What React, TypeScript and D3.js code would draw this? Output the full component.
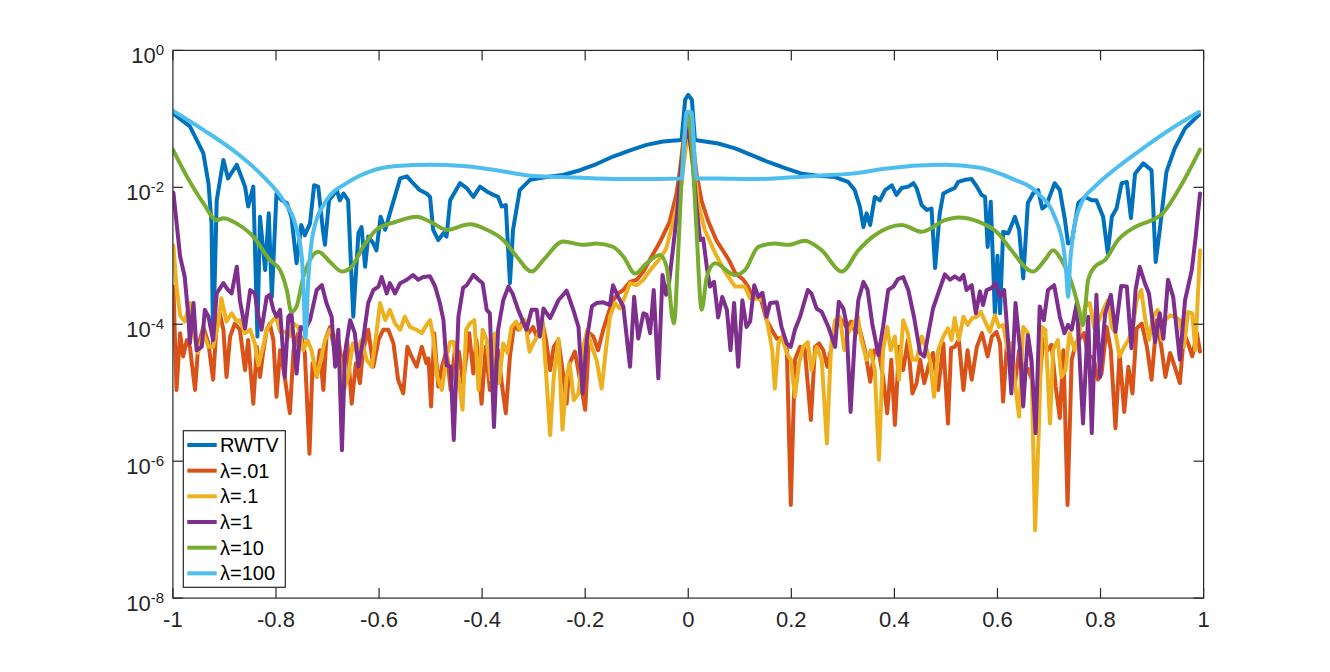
import React from "react";
import * as d3 from "d3";

// ---- chart values: [x, log10(y)] pairs ----
const xTickValues = [-1, -0.8, -0.6, -0.4, -0.2, 0, 0.2, 0.4, 0.6, 0.8, 1];
const yTickExponents = [0, -2, -4, -6, -8];
const legendLabels = ["RWTV", "λ=.01", "λ=.1", "λ=1", "λ=10", "λ=100"];
const seriesColors = ["#0072BD", "#D95319", "#EDB120", "#7E2F8E", "#77AC30", "#4DBEEE"];

const rwtv: [number, number][] = [[-1.000,-0.92],[-0.967,-1.11],[-0.941,-1.50],[-0.931,-1.94],[-0.925,-2.53],[-0.922,-4.33],[-0.915,-2.19],[-0.902,-1.60],[-0.893,-1.87],[-0.876,-1.67],[-0.860,-1.99],[-0.854,-2.28],[-0.844,-1.99],[-0.836,-4.18],[-0.831,-2.43],[-0.821,-3.21],[-0.814,-2.38],[-0.808,-3.60],[-0.799,-2.09],[-0.789,-2.19],[-0.779,-2.23],[-0.770,-2.43],[-0.760,-3.11],[-0.751,-2.55],[-0.744,-2.70],[-0.734,-2.53],[-0.726,-1.97],[-0.718,-1.99],[-0.709,-2.62],[-0.705,-2.84],[-0.697,-2.19],[-0.682,-2.04],[-0.676,-2.19],[-0.669,-2.09],[-0.660,-2.19],[-0.650,-3.89],[-0.640,-2.67],[-0.634,-2.58],[-0.627,-3.16],[-0.621,-2.72],[-0.611,-2.82],[-0.605,-2.92],[-0.597,-2.43],[-0.588,-2.62],[-0.579,-2.38],[-0.559,-1.87],[-0.546,-1.84],[-0.534,-1.94],[-0.521,-2.04],[-0.508,-2.09],[-0.501,-2.14],[-0.495,-2.62],[-0.485,-2.77],[-0.475,-2.67],[-0.469,-2.72],[-0.462,-2.19],[-0.443,-1.94],[-0.430,-2.01],[-0.417,-2.14],[-0.404,-1.99],[-0.391,-2.06],[-0.378,-2.11],[-0.369,-2.14],[-0.362,-2.28],[-0.354,-2.26],[-0.346,-3.40],[-0.340,-2.62],[-0.327,-2.04],[-0.307,-1.89],[-0.275,-1.85],[-0.243,-1.82],[-0.210,-1.75],[-0.178,-1.66],[-0.146,-1.55],[-0.113,-1.46],[-0.081,-1.38],[-0.049,-1.33],[-0.013,-1.31],[-0.006,-0.72],[0,-0.65],[0.007,-0.72],[0.013,-1.31],[0.058,-1.36],[0.091,-1.43],[0.123,-1.53],[0.155,-1.63],[0.188,-1.72],[0.220,-1.80],[0.252,-1.83],[0.285,-1.85],[0.310,-1.92],[0.323,-2.04],[0.333,-2.28],[0.340,-2.58],[0.346,-2.38],[0.353,-2.55],[0.362,-2.14],[0.372,-2.19],[0.382,-2.04],[0.395,-1.97],[0.404,-2.11],[0.414,-2.01],[0.427,-1.99],[0.437,-1.94],[0.443,-2.01],[0.453,-2.26],[0.463,-2.33],[0.472,-2.31],[0.479,-3.18],[0.488,-2.38],[0.495,-2.09],[0.508,-2.04],[0.517,-2.01],[0.524,-1.92],[0.537,-1.89],[0.550,-1.88],[0.560,-1.99],[0.569,-2.11],[0.576,-2.14],[0.581,-2.87],[0.587,-2.21],[0.595,-3.84],[0.600,-3.00],[0.605,-3.84],[0.611,-2.65],[0.621,-2.67],[0.634,-2.43],[0.642,-2.62],[0.650,-3.33],[0.659,-2.23],[0.669,-2.09],[0.679,-2.04],[0.687,-2.31],[0.695,-2.26],[0.711,-1.94],[0.721,-2.04],[0.731,-2.48],[0.737,-2.82],[0.744,-2.80],[0.757,-2.23],[0.770,-2.14],[0.783,-2.19],[0.792,-2.19],[0.805,-2.43],[0.814,-2.96],[0.822,-2.43],[0.831,-2.31],[0.841,-1.94],[0.851,-1.92],[0.859,-2.45],[0.867,-1.80],[0.883,-1.65],[0.899,-1.75],[0.907,-3.09],[0.915,-2.62],[0.928,-1.77],[0.944,-1.43],[0.964,-1.14],[0.991,-0.94]];

const lam001: [number, number][] = [[-0.999,-3.45],[-0.993,-4.96],[-0.986,-4.13],[-0.980,-4.47],[-0.973,-4.23],[-0.967,-4.33],[-0.957,-4.96],[-0.951,-4.33],[-0.941,-4.04],[-0.931,-4.28],[-0.922,-4.81],[-0.915,-3.99],[-0.909,-3.84],[-0.902,-4.08],[-0.896,-4.77],[-0.889,-4.18],[-0.880,-3.99],[-0.870,-4.08],[-0.860,-4.67],[-0.854,-4.23],[-0.844,-5.16],[-0.837,-4.33],[-0.831,-4.77],[-0.825,-4.42],[-0.818,-4.08],[-0.812,-3.99],[-0.805,-4.23],[-0.799,-5.06],[-0.792,-4.38],[-0.783,-4.77],[-0.773,-5.30],[-0.766,-4.38],[-0.757,-4.13],[-0.750,-4.20],[-0.744,-4.42],[-0.735,-5.89],[-0.729,-4.57],[-0.721,-4.77],[-0.715,-4.38],[-0.708,-4.96],[-0.702,-4.18],[-0.695,-4.04],[-0.685,-4.42],[-0.679,-4.23],[-0.669,-4.67],[-0.662,-4.23],[-0.653,-5.16],[-0.645,-4.57],[-0.637,-4.86],[-0.631,-4.38],[-0.621,-4.08],[-0.611,-4.62],[-0.601,-4.23],[-0.592,-4.08],[-0.582,-4.08],[-0.572,-4.28],[-0.563,-4.81],[-0.553,-5.01],[-0.545,-4.33],[-0.537,-4.47],[-0.527,-4.62],[-0.517,-4.33],[-0.508,-4.57],[-0.504,-4.50],[-0.499,-5.20],[-0.493,-4.13],[-0.485,-4.91],[-0.478,-4.62],[-0.469,-4.38],[-0.461,-4.96],[-0.453,-4.38],[-0.445,-4.40],[-0.437,-4.86],[-0.425,-4.13],[-0.417,-4.72],[-0.411,-4.23],[-0.401,-5.16],[-0.393,-4.33],[-0.385,-4.96],[-0.376,-4.57],[-0.369,-4.38],[-0.362,-4.86],[-0.354,-5.30],[-0.346,-4.47],[-0.338,-4.01],[-0.330,-4.08],[-0.320,-3.94],[-0.310,-4.13],[-0.301,-4.04],[-0.294,-4.18],[-0.284,-3.94],[-0.276,-4.23],[-0.268,-4.67],[-0.261,-4.33],[-0.252,-4.23],[-0.244,-4.67],[-0.236,-5.16],[-0.230,-4.57],[-0.220,-4.40],[-0.210,-4.81],[-0.200,-5.25],[-0.192,-4.13],[-0.184,-4.18],[-0.175,-4.38],[-0.165,-4.08],[-0.155,-3.84],[-0.146,-3.65],[-0.136,-3.55],[-0.126,-3.50],[-0.113,-3.38],[-0.100,-3.35],[-0.087,-3.23],[-0.074,-3.05],[-0.055,-2.80],[-0.036,-2.50],[-0.023,-2.10],[-0.016,-1.75],[-0.010,-1.35],[-0.003,-1.05],[0.003,-1.05],[0.010,-1.40],[0.016,-1.80],[0.026,-2.20],[0.039,-2.50],[0.055,-2.78],[0.078,-3.05],[0.091,-3.25],[0.107,-3.35],[0.116,-3.45],[0.123,-3.58],[0.133,-3.62],[0.141,-3.63],[0.152,-3.94],[0.162,-4.08],[0.172,-4.21],[0.181,-4.20],[0.191,-4.28],[0.199,-6.64],[0.207,-4.52],[0.217,-4.33],[0.226,-4.36],[0.238,-5.40],[0.246,-4.33],[0.254,-4.28],[0.262,-4.38],[0.270,-4.62],[0.278,-4.33],[0.288,-4.01],[0.298,-3.94],[0.307,-4.04],[0.316,-3.96],[0.325,-4.13],[0.333,-4.08],[0.343,-4.38],[0.353,-4.84],[0.361,-4.38],[0.370,-4.42],[0.378,-4.77],[0.386,-5.30],[0.394,-4.52],[0.401,-5.47],[0.409,-4.33],[0.417,-4.67],[0.426,-4.23],[0.435,-5.01],[0.443,-4.86],[0.450,-4.52],[0.458,-4.86],[0.466,-4.62],[0.475,-4.42],[0.485,-4.96],[0.495,-4.28],[0.504,-5.45],[0.510,-4.35],[0.517,-4.33],[0.525,-4.23],[0.534,-4.96],[0.542,-4.38],[0.550,-4.81],[0.560,-4.33],[0.570,-4.13],[0.581,-4.47],[0.589,-4.18],[0.598,-4.11],[0.605,-4.28],[0.611,-5.13],[0.618,-4.33],[0.626,-4.57],[0.634,-4.86],[0.642,-4.38],[0.650,-4.67],[0.659,-4.65],[0.667,-4.81],[0.674,-5.40],[0.680,-4.96],[0.689,-4.21],[0.697,-4.38],[0.705,-4.30],[0.713,-4.91],[0.721,-5.37],[0.728,-4.38],[0.736,-6.64],[0.744,-4.52],[0.752,-4.28],[0.760,-4.21],[0.768,-4.13],[0.776,-4.47],[0.786,-4.48],[0.795,-4.81],[0.802,-4.72],[0.812,-4.04],[0.820,-4.38],[0.829,-5.52],[0.837,-4.42],[0.846,-5.28],[0.854,-4.62],[0.862,-5.01],[0.870,-4.06],[0.880,-3.99],[0.890,-4.33],[0.899,-4.81],[0.909,-3.94],[0.918,-4.33],[0.926,-4.77],[0.935,-4.42],[0.944,-4.62],[0.954,-4.86],[0.962,-4.13],[0.970,-4.28],[0.978,-4.47],[0.987,-4.13],[0.993,-4.40]];

const lam01: [number, number][] = [[-0.999,-2.85],[-0.993,-3.45],[-0.986,-3.87],[-0.977,-3.96],[-0.967,-3.69],[-0.957,-4.23],[-0.951,-4.42],[-0.941,-4.13],[-0.931,-4.33],[-0.922,-4.33],[-0.912,-3.99],[-0.906,-3.62],[-0.896,-3.96],[-0.886,-3.84],[-0.876,-3.96],[-0.870,-3.94],[-0.860,-4.13],[-0.850,-4.08],[-0.841,-4.28],[-0.834,-4.60],[-0.825,-4.33],[-0.818,-4.08],[-0.808,-3.96],[-0.800,-3.89],[-0.792,-4.11],[-0.783,-4.11],[-0.774,-4.18],[-0.766,-3.99],[-0.757,-4.04],[-0.747,-4.38],[-0.739,-4.23],[-0.731,-4.38],[-0.721,-4.77],[-0.713,-4.52],[-0.705,-4.23],[-0.695,-4.08],[-0.685,-4.18],[-0.676,-4.52],[-0.668,-4.96],[-0.660,-4.77],[-0.651,-4.28],[-0.643,-4.42],[-0.634,-4.23],[-0.624,-4.52],[-0.614,-4.62],[-0.606,-4.18],[-0.598,-3.69],[-0.588,-3.94],[-0.579,-3.79],[-0.569,-3.99],[-0.559,-4.08],[-0.550,-3.89],[-0.540,-4.04],[-0.527,-4.08],[-0.517,-4.13],[-0.508,-4.01],[-0.501,-3.94],[-0.495,-4.18],[-0.487,-4.77],[-0.478,-4.96],[-0.469,-4.47],[-0.462,-4.26],[-0.455,-4.26],[-0.446,-4.77],[-0.438,-5.25],[-0.431,-4.08],[-0.424,-3.99],[-0.415,-3.94],[-0.407,-4.96],[-0.399,-4.08],[-0.391,-4.23],[-0.383,-4.81],[-0.375,-4.13],[-0.367,-4.86],[-0.359,-4.28],[-0.351,-4.42],[-0.343,-4.04],[-0.334,-3.96],[-0.327,-4.08],[-0.317,-3.94],[-0.308,-4.40],[-0.301,-4.28],[-0.293,-4.18],[-0.283,-3.94],[-0.275,-4.81],[-0.268,-5.62],[-0.261,-4.77],[-0.252,-4.21],[-0.244,-5.54],[-0.236,-4.77],[-0.230,-4.57],[-0.222,-5.11],[-0.213,-5.01],[-0.205,-4.38],[-0.196,-4.08],[-0.187,-4.33],[-0.178,-4.52],[-0.168,-4.94],[-0.160,-4.38],[-0.152,-3.89],[-0.142,-3.69],[-0.133,-3.77],[-0.123,-3.60],[-0.113,-3.40],[-0.100,-3.43],[-0.087,-3.35],[-0.074,-3.21],[-0.055,-3.04],[-0.043,-2.90],[-0.036,-2.70],[-0.023,-2.30],[-0.013,-1.94],[-0.006,-1.50],[0,-1.15],[0.007,-1.60],[0.016,-2.00],[0.019,-2.23],[0.032,-2.62],[0.052,-2.96],[0.071,-3.23],[0.091,-3.45],[0.110,-3.45],[0.120,-3.62],[0.129,-3.62],[0.146,-3.65],[0.155,-4.04],[0.163,-4.38],[0.168,-4.94],[0.175,-4.28],[0.182,-4.18],[0.191,-4.42],[0.199,-4.52],[0.207,-5.06],[0.215,-4.57],[0.223,-4.33],[0.232,-4.26],[0.239,-4.67],[0.249,-4.33],[0.259,-4.52],[0.269,-5.74],[0.277,-4.33],[0.285,-3.94],[0.294,-3.89],[0.303,-4.38],[0.310,-4.13],[0.320,-3.99],[0.329,-3.89],[0.336,-4.23],[0.346,-4.52],[0.354,-4.38],[0.362,-4.67],[0.370,-5.98],[0.378,-4.38],[0.386,-4.04],[0.393,-4.38],[0.401,-4.18],[0.409,-4.81],[0.417,-3.94],[0.426,-4.13],[0.435,-4.52],[0.443,-4.52],[0.453,-4.18],[0.461,-4.33],[0.469,-4.52],[0.477,-5.06],[0.485,-4.38],[0.495,-4.18],[0.504,-4.06],[0.511,-4.23],[0.517,-3.91],[0.525,-4.23],[0.534,-3.89],[0.542,-4.01],[0.551,-3.91],[0.560,-3.89],[0.568,-3.82],[0.576,-3.96],[0.585,-4.11],[0.595,-3.87],[0.603,-4.04],[0.611,-4.01],[0.620,-4.38],[0.627,-4.28],[0.634,-4.86],[0.642,-5.35],[0.650,-4.04],[0.659,-4.13],[0.666,-4.57],[0.673,-7.01],[0.680,-5.60],[0.686,-4.04],[0.693,-4.08],[0.702,-5.45],[0.708,-4.38],[0.717,-4.23],[0.724,-4.77],[0.732,-4.67],[0.740,-4.13],[0.750,-4.38],[0.760,-4.08],[0.770,-3.74],[0.779,-3.69],[0.788,-4.06],[0.797,-3.94],[0.805,-3.79],[0.814,-3.65],[0.822,-4.04],[0.829,-4.13],[0.837,-4.47],[0.846,-4.33],[0.854,-4.23],[0.862,-4.08],[0.870,-3.65],[0.879,-3.50],[0.886,-3.89],[0.894,-4.23],[0.902,-3.89],[0.911,-3.79],[0.919,-4.23],[0.926,-3.94],[0.935,-3.87],[0.944,-3.89],[0.954,-3.94],[0.962,-4.33],[0.970,-3.82],[0.978,-3.84],[0.984,-4.38],[0.993,-2.92]];

const lam1: [number, number][] = [[-0.999,-2.08],[-0.986,-3.01],[-0.977,-3.31],[-0.970,-3.89],[-0.967,-4.28],[-0.960,-3.69],[-0.954,-4.38],[-0.944,-4.33],[-0.938,-3.79],[-0.931,-3.89],[-0.922,-4.23],[-0.915,-3.55],[-0.902,-3.40],[-0.893,-3.50],[-0.886,-3.55],[-0.876,-3.16],[-0.870,-3.65],[-0.860,-4.06],[-0.850,-3.50],[-0.841,-3.55],[-0.834,-3.89],[-0.828,-4.08],[-0.818,-3.60],[-0.812,-3.57],[-0.805,-3.79],[-0.799,-3.89],[-0.792,-3.79],[-0.783,-4.77],[-0.776,-3.89],[-0.770,-3.84],[-0.760,-4.72],[-0.752,-4.04],[-0.744,-4.08],[-0.734,-3.94],[-0.721,-3.50],[-0.711,-3.43],[-0.702,-3.69],[-0.692,-3.89],[-0.685,-4.62],[-0.679,-4.08],[-0.672,-5.84],[-0.666,-4.42],[-0.656,-3.94],[-0.647,-4.13],[-0.640,-4.62],[-0.631,-4.23],[-0.621,-3.69],[-0.611,-3.50],[-0.601,-3.45],[-0.595,-3.31],[-0.585,-3.55],[-0.579,-3.40],[-0.569,-3.55],[-0.559,-3.40],[-0.546,-3.35],[-0.534,-3.28],[-0.524,-3.35],[-0.514,-3.31],[-0.501,-3.30],[-0.491,-3.45],[-0.482,-3.69],[-0.475,-3.94],[-0.469,-4.60],[-0.461,-4.62],[-0.455,-5.69],[-0.446,-3.89],[-0.437,-3.47],[-0.430,-3.43],[-0.417,-3.28],[-0.407,-3.35],[-0.399,-3.40],[-0.391,-3.79],[-0.385,-3.84],[-0.377,-5.50],[-0.369,-4.08],[-0.359,-3.65],[-0.349,-3.45],[-0.341,-3.55],[-0.330,-3.79],[-0.314,-4.08],[-0.304,-3.79],[-0.294,-3.79],[-0.288,-4.18],[-0.281,-3.77],[-0.268,-3.91],[-0.252,-3.65],[-0.236,-3.51],[-0.223,-3.79],[-0.213,-4.04],[-0.205,-5.01],[-0.197,-4.23],[-0.187,-3.74],[-0.178,-3.69],[-0.165,-3.68],[-0.152,-3.72],[-0.146,-3.43],[-0.136,-3.60],[-0.126,-3.74],[-0.113,-4.62],[-0.105,-3.60],[-0.097,-4.21],[-0.087,-3.84],[-0.081,-3.86],[-0.074,-4.13],[-0.067,-3.50],[-0.058,-4.79],[-0.050,-3.28],[-0.043,-3.57],[-0.037,-3.38],[-0.030,-2.92],[-0.022,-2.40],[-0.013,-1.65],[-0.006,-1.30],[0,-1.15],[0.007,-1.50],[0.016,-2.28],[0.023,-2.77],[0.029,-2.75],[0.036,-3.16],[0.042,-3.45],[0.050,-3.38],[0.058,-3.90],[0.066,-3.60],[0.075,-3.79],[0.082,-4.38],[0.089,-3.69],[0.097,-4.62],[0.105,-3.65],[0.113,-4.04],[0.120,-3.96],[0.128,-3.43],[0.136,-3.60],[0.144,-3.54],[0.152,-3.89],[0.159,-3.69],[0.172,-3.68],[0.181,-4.04],[0.191,-4.28],[0.199,-4.33],[0.207,-4.08],[0.217,-3.89],[0.232,-3.50],[0.239,-3.55],[0.249,-3.77],[0.259,-3.82],[0.272,-4.04],[0.285,-4.33],[0.292,-3.67],[0.301,-3.77],[0.307,-3.99],[0.315,-5.28],[0.323,-4.23],[0.330,-3.65],[0.340,-3.38],[0.348,-3.50],[0.357,-3.99],[0.369,-4.45],[0.378,-4.04],[0.388,-3.50],[0.398,-3.45],[0.407,-3.34],[0.417,-3.31],[0.427,-3.50],[0.438,-3.89],[0.450,-4.42],[0.458,-4.47],[0.466,-4.13],[0.475,-3.77],[0.485,-3.55],[0.498,-3.27],[0.508,-3.35],[0.517,-3.30],[0.527,-3.35],[0.534,-3.28],[0.540,-3.50],[0.550,-3.43],[0.558,-3.84],[0.566,-3.52],[0.572,-3.72],[0.579,-3.50],[0.589,-3.47],[0.596,-3.40],[0.605,-3.60],[0.613,-3.50],[0.621,-4.28],[0.627,-5.01],[0.635,-3.69],[0.644,-4.38],[0.650,-5.20],[0.659,-4.16],[0.666,-4.52],[0.674,-5.59],[0.682,-3.74],[0.690,-3.94],[0.698,-3.50],[0.710,-3.43],[0.721,-3.89],[0.730,-4.13],[0.737,-4.01],[0.744,-4.08],[0.754,-3.69],[0.766,-5.45],[0.776,-3.89],[0.783,-5.59],[0.792,-3.57],[0.799,-4.77],[0.809,-3.84],[0.820,-3.57],[0.829,-4.11],[0.840,-3.44],[0.851,-3.45],[0.860,-4.35],[0.868,-3.50],[0.876,-3.16],[0.886,-3.40],[0.894,-3.55],[0.906,-4.26],[0.915,-3.84],[0.922,-4.21],[0.931,-3.35],[0.941,-3.60],[0.954,-4.52],[0.964,-3.65],[0.977,-3.21],[0.985,-2.70],[0.993,-2.09]];

const lam10: [number, number][] = [[-1.000,-1.45],[-0.973,-1.84],[-0.941,-2.23],[-0.915,-2.48],[-0.902,-2.45],[-0.876,-2.53],[-0.844,-2.72],[-0.812,-3.06],[-0.792,-3.21],[-0.779,-3.50],[-0.770,-3.82],[-0.760,-3.74],[-0.747,-3.31],[-0.734,-3.06],[-0.718,-2.94],[-0.695,-3.09],[-0.672,-3.23],[-0.653,-3.16],[-0.631,-2.87],[-0.605,-2.62],[-0.566,-2.50],[-0.527,-2.43],[-0.501,-2.50],[-0.469,-2.62],[-0.424,-2.54],[-0.391,-2.62],[-0.359,-2.77],[-0.333,-3.01],[-0.304,-3.23],[-0.281,-3.06],[-0.243,-2.79],[-0.204,-2.84],[-0.178,-2.82],[-0.146,-2.87],[-0.126,-3.01],[-0.103,-3.26],[-0.081,-3.11],[-0.055,-2.99],[-0.042,-3.16],[-0.028,-3.99],[-0.019,-2.87],[-0.013,-1.89],[-0.006,-1.16],[0,-0.95],[0.007,-1.41],[0.016,-2.62],[0.026,-3.79],[0.036,-3.31],[0.052,-3.11],[0.091,-3.28],[0.110,-3.21],[0.136,-2.87],[0.168,-2.82],[0.194,-2.84],[0.226,-2.78],[0.259,-2.92],[0.298,-3.23],[0.330,-2.92],[0.362,-2.70],[0.414,-2.55],[0.453,-2.65],[0.498,-2.48],[0.524,-2.44],[0.563,-2.50],[0.601,-2.67],[0.627,-2.92],[0.669,-3.23],[0.692,-3.06],[0.708,-2.92],[0.724,-3.06],[0.744,-3.40],[0.757,-3.74],[0.766,-4.01],[0.776,-3.35],[0.789,-3.16],[0.809,-3.06],[0.834,-2.77],[0.867,-2.58],[0.899,-2.48],[0.918,-2.40],[0.951,-2.04],[0.993,-1.45]];

const lam100: [number, number][] = [[-1.000,-0.88],[-0.941,-1.16],[-0.876,-1.50],[-0.825,-1.84],[-0.786,-2.19],[-0.763,-2.53],[-0.750,-3.01],[-0.746,-3.60],[-0.743,-4.20],[-0.737,-3.31],[-0.728,-2.67],[-0.702,-2.19],[-0.663,-1.94],[-0.618,-1.77],[-0.566,-1.69],[-0.501,-1.67],[-0.437,-1.69],[-0.372,-1.75],[-0.307,-1.83],[-0.243,-1.85],[-0.178,-1.87],[-0.113,-1.88],[-0.013,-1.87],[-0.003,-0.90],[0.006,-0.90],[0.016,-1.87],[0.058,-1.87],[0.123,-1.88],[0.188,-1.86],[0.252,-1.83],[0.317,-1.80],[0.382,-1.73],[0.446,-1.68],[0.498,-1.67],[0.563,-1.71],[0.627,-1.87],[0.679,-2.09],[0.711,-2.43],[0.728,-2.87],[0.734,-3.30],[0.737,-3.60],[0.741,-3.10],[0.747,-2.67],[0.763,-2.23],[0.789,-1.99],[0.834,-1.70],[0.886,-1.41],[0.938,-1.14],[0.991,-0.90]];

const seriesData = [rwtv, lam001, lam01, lam1, lam10, lam100];
const smoothSeries = [false, false, false, false, true, true];

// ---- layout ----
const W = 1330;
const H = 672;
const left = 172.9;
const right = 1203.6;
const top = 50.4;
const bottom = 598.1;
const axisColor = "#262626";
const font = "'Liberation Sans', Arial, Helvetica, sans-serif";
const tickLen = 10;

export default function App() {
  const x = d3.scaleLinear().domain([-1, 1]).range([left, right]);
  const y = d3.scaleLog().domain([1e-8, 1]).range([bottom, top]);

  const makeLine = (smooth: boolean) =>
    d3
      .line<[number, number]>()
      .x((d) => x(d[0]))
      .y((d) => y(Math.pow(10, d[1])))
      .curve(smooth ? d3.curveMonotoneX : d3.curveLinear);

  const legendX0 = 183.3;
  const legendY0 = 430.7;
  const legendW = 102;
  const legendH = 156.6;
  const rowStart = 445;
  const rowStep = 25.67;

  return (
    <svg
      width={W}
      height={H}
      viewBox={`0 0 ${W} ${H}`}
      style={{ position: "absolute", left: 0, top: 0, background: "#fff" }}
    >
      <defs>
        <clipPath id="plotClip">
          <rect x={left} y={top} width={right - left} height={bottom - top} />
        </clipPath>
      </defs>
      <rect x={0} y={0} width={W} height={H} fill="#fff" />

      <g clipPath="url(#plotClip)">
        {seriesData.map((data, i) => (
          <path
            key={i}
            d={makeLine(smoothSeries[i])(data) || ""}
            fill="none"
            stroke={seriesColors[i]}
            strokeWidth={4}
            strokeLinejoin="round"
            strokeLinecap="round"
          />
        ))}
      </g>

      {/* axes box */}
      <rect
        x={left}
        y={top}
        width={right - left}
        height={bottom - top}
        fill="none"
        stroke={axisColor}
        strokeWidth={1.2}
      />

      {/* x ticks */}
      {xTickValues.map((v) => (
        <g key={"x" + v}>
          <line x1={x(v)} x2={x(v)} y1={bottom} y2={bottom - tickLen} stroke={axisColor} strokeWidth={1.2} />
          <line x1={x(v)} x2={x(v)} y1={top} y2={top + tickLen} stroke={axisColor} strokeWidth={1.2} />
          <text
            x={x(v)}
            y={627}
            textAnchor="middle"
            fontFamily={font}
            fontSize={22}
            fill={axisColor}
          >
            {String(Math.round(v * 10) / 10)}
          </text>
        </g>
      ))}

      {/* y ticks */}
      {yTickExponents.map((e) => {
        const py = y(Math.pow(10, e));
        return (
          <g key={"y" + e}>
            <line x1={left} x2={left + tickLen} y1={py} y2={py} stroke={axisColor} strokeWidth={1.2} />
            <line x1={right} x2={right - tickLen} y1={py} y2={py} stroke={axisColor} strokeWidth={1.2} />
            <text
              x={164}
              y={py + 13}
              textAnchor="end"
              fontFamily={font}
              fontSize={22}
              fill={axisColor}
            >
              10
              <tspan fontSize={15} dy={-8}>
                {String(e)}
              </tspan>
            </text>
          </g>
        );
      })}

      {/* legend */}
      <rect
        x={legendX0}
        y={legendY0}
        width={legendW}
        height={legendH}
        fill="#fff"
        stroke={axisColor}
        strokeWidth={1.2}
      />
      {legendLabels.map((label, i) => {
        const cy = rowStart + i * rowStep;
        return (
          <g key={label}>
            <line x1={187.3} x2={216.7} y1={cy} y2={cy} stroke={seriesColors[i]} strokeWidth={4} />
            <text x={220} y={cy + 7} fontFamily={font} fontSize={20} fill="#000">
              {label}
            </text>
          </g>
        );
      })}
    </svg>
  );
}
